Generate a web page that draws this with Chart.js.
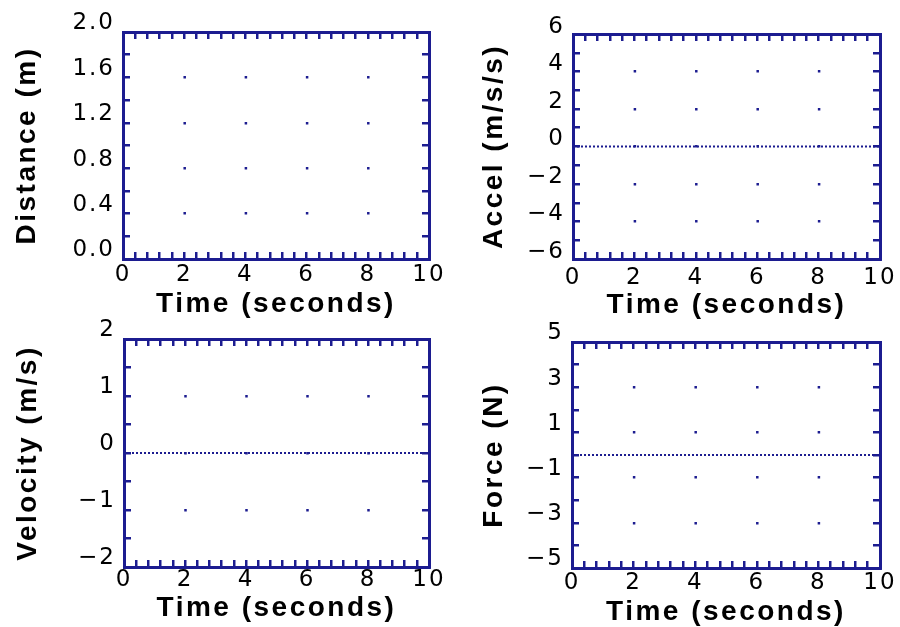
<!DOCTYPE html>
<html><head><meta charset="utf-8">
<script src="https://cdn.jsdelivr.net/npm/chart.js@4"></script>
<style>
html,body{margin:0;padding:0;background:#fff;width:900px;height:627px;overflow:hidden}
.p{position:absolute}
canvas{display:block}
</style></head><body>
<div class="p" style="left:0;top:0"><canvas id="c1" width="450" height="318"></canvas></div>
<div class="p" style="left:450px;top:0"><canvas id="c2" width="450" height="319"></canvas></div>
<div class="p" style="left:0;top:310px"><canvas id="c3" width="450" height="312"></canvas></div>
<div class="p" style="left:450px;top:310px"><canvas id="c4" width="450" height="316"></canvas></div>
<script>
// ---- data ----
const time = [0, 10];
const distance = [0, 0];
const accel = [0, 0];
const velocity = [0, 0];
const force = [0, 0];
// ---- tick labels ----
const timeLabels = [0, 2, 4, 6, 8, 10];
const distanceLabels = [0.0, 0.4, 0.8, 1.2, 1.6, 2.0];
const accelLabels = [-6, -4, -2, 0, 2, 4, 6];
const velocityLabels = [-2, -1, 0, 1, 2];
const forceLabels = [-5, -3, -1, 1, 3, 5];
// ---- tick steps ----
const timeStep = 0.4;
const distanceStep = 0.2, accelStep = 1, velocityStep = 0.5, forceStep = 1;

const NAVY = '#1c1c90';
const tickFont = {family: '"DejaVu Sans", sans-serif', size: 23, lineHeight: 1};
const titleFont = {family: '"Liberation Sans", Arial, sans-serif', size: 28, weight: 'bold', lineHeight: 1};

function has(list, v) { return list.some(t => Math.abs(t - v) < 1e-6); }
function fmt(v, dec) { return (v < -1e-9 ? '\u2212' : '') + Math.abs(v).toFixed(dec); }

const spacingPlugin = {
  id: 'spacing',
  beforeDraw(chart) {
    chart.ctx.letterSpacing = '2px';
    Object.values(chart.scales).forEach(s => {
      if (!s._wrappedTitle) {
        const orig = s.drawTitle;
        s.drawTitle = function () {
          const c = this.ctx; const prev = c.letterSpacing;
          c.letterSpacing = '2.5px'; orig.call(this); c.letterSpacing = prev;
        };
        s._wrappedTitle = true;
      }
    });
  }
};

function panel(id, series, yLabels, yStep, dec, yTitle, L) {
  const canvas = document.getElementById(id);
  const W = canvas.width, H = canvas.height;
  const yMin = yLabels[0], yMax = yLabels[yLabels.length - 1];
  const gridVals = yLabels.slice(1, -1);
  const fit = (prop, val) => (s) => {
    s[prop] = val;
    s.paddingLeft = 0; s.paddingRight = 0; s.paddingTop = 0; s.paddingBottom = 0;
  };
  const tickGrid = {drawOnChartArea: false, drawTicks: true, tickLength: -7, tickWidth: 2.5, tickColor: NAVY, color: NAVY, lineWidth: 2.5};
  const border = {display: true, color: NAVY, width: 3};
  new Chart(canvas, {
    type: 'line',
    data: {
      datasets: [{
        data: time.map((t, i) => ({x: t, y: series[i]})),
        borderColor: NAVY, borderWidth: 2, borderDash: [2, 2], pointRadius: 0, fill: false, tension: 0
      }]
    },
    options: {
      responsive: false, animation: false, events: [],
      layout: {padding: 0},
      plugins: {legend: {display: false}, tooltip: {enabled: false}, title: {display: false}},
      scales: {
        x: {
          type: 'linear', position: 'bottom', min: 0, max: 10,
          afterFit: fit('height', H - L.b),
          ticks: {stepSize: timeStep, autoSkip: false, maxRotation: 0, minRotation: 0, padding: L.xPad, color: '#000', font: tickFont,
            callback: v => has(timeLabels, v) ? String(Math.round(v)) : ''},
          grid: tickGrid, border: border,
          title: {display: true, text: 'Time (seconds)', color: '#000', font: titleFont, padding: {top: 0, bottom: 0}}
        },
        xTop: {
          type: 'linear', position: 'top', min: 0, max: 10,
          afterFit: fit('height', L.t),
          ticks: {stepSize: timeStep, autoSkip: false, display: false},
          grid: tickGrid, border: border
        },
        y: {
          type: 'linear', position: 'left', min: yMin, max: yMax,
          afterFit: fit('width', L.l),
          ticks: {stepSize: yStep, autoSkip: false, padding: 15, labelOffset: L.yOff, color: '#000', font: tickFont,
            callback: v => has(yLabels, v) ? fmt(v, dec) : ''},
          grid: {
            drawOnChartArea: true, drawTicks: true, tickLength: -7, tickWidth: 2.5, tickColor: NAVY, lineWidth: 2.5,
            color: c => (c.tick && has(gridVals, c.tick.value)) ? NAVY : 'rgba(0,0,0,0)'
          },
          border: {
            display: true, color: NAVY, width: 3,
            dash: c => {
              const xs = c.chart.scales.x;
              if (!xs) return [];
              const P = xs.getPixelForValue(2) - xs.getPixelForValue(0);
              return isFinite(P) && P > 3 ? [2.5, P - 2.5] : [];
            },
            dashOffset: 2.75
          },
          title: {display: true, text: yTitle, color: '#000', font: titleFont, padding: {top: L.yTitlePad, bottom: 0}}
        },
        yRight: {
          type: 'linear', position: 'right', min: yMin, max: yMax,
          afterFit: fit('width', W - L.r),
          ticks: {stepSize: yStep, autoSkip: false, display: false},
          grid: tickGrid, border: border
        }
      }
    },
    plugins: [spacingPlugin]
  });
}

panel('c1', distance, distanceLabels, distanceStep, 1, 'Distance (m)',
  {l: 123, t: 32, r: 429, b: 259, xPad: 12, yOff: -8.5, yTitlePad: 13});
panel('c2', accel, accelLabels, accelStep, 0, 'Accel (m/s/s)',
  {l: 123, t: 34, r: 430, b: 259, xPad: 15, yOff: -7, yTitlePad: 30});
panel('c3', velocity, velocityLabels, velocityStep, 0, 'Velocity (m/s)',
  {l: 124, t: 29, r: 429, b: 257, xPad: 9, yOff: -8.5, yTitlePad: 14});
panel('c4', force, forceLabels, forceStep, 0, 'Force (N)',
  {l: 122, t: 32, r: 430, b: 258, xPad: 10.5, yOff: -8.5, yTitlePad: 30});
</script>
</body></html>
